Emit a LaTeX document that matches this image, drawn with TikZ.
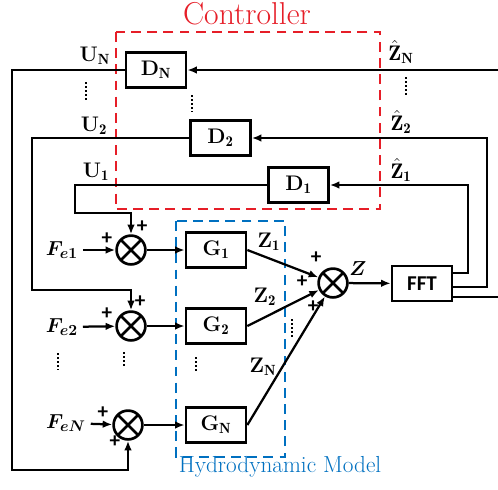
\documentclass[tikz,border=0pt]{standalone}
\usepackage{amsmath}
\usepackage{bm}
\usepackage{fontspec}
\setsansfont{Carlito}
\usepackage{tikz}
\usetikzlibrary{arrows.meta,positioning}
\definecolor{hydroblue}{RGB}{0,112,192}
\definecolor{ctrlred}{RGB}{230,30,40}

\begin{document}
\begin{tikzpicture}[x=0.025cm, y=-0.025cm, every node/.style={font=\fontsize{15}{17}\selectfont\bfseries}]
    \tikzstyle{block} = [rectangle, draw=black, line width=1.9pt, minimum width=1.5cm,
        minimum height=0.875cm, inner sep=0pt]
    \tikzstyle{summer} = [circle, draw=black, line width=1.9pt, minimum size=0.72cm, inner sep=0pt,
        path picture={\draw[line width=1.9pt] (path picture bounding box.north west) -- (path picture bounding box.south east)
            (path picture bounding box.north east) -- (path picture bounding box.south west);}]
    \tikzstyle{wire} = [line width=1.6pt]
    \tikzstyle{arr} = [wire, -{Latex[length=2.4mm, width=1.9mm]}]
    \tikzstyle{plus} = [inner sep=0pt, font=\sffamily\fontsize{15}{16}\selectfont\bfseries]
    \tikzstyle{dots} = [line width=1.8pt, dash pattern=on 1.2pt off 1.7pt]
    \useasboundingbox (0,0) rectangle (498,489);

    % group frames
    \draw [ctrlred, line width=1.7pt, dash pattern=on 7pt off 4.5pt] (116,32) rectangle (380,209);
    \draw [hydroblue, line width=1.7pt, dash pattern=on 7pt off 4.5pt] (176,221) rectangle (285,457);
    \node (ctrl) [font=\fontsize{22.5}{25}\selectfont, text=ctrlred] at (247,14) {Controller};
    \node (hydro) [font=\fontsize{16.5}{18}\selectfont, text=hydroblue] at (280,467) {Hydrodynamic Model};

    % blocks
    \node (DN) [block] at (156,70) {D$_{\mathbf{N}}$};
    \node (D2) [block] at (220.5,138) {D$_{\mathbf{2}}$};
    \node (D1) [block] at (298.5,185) {D$_{\mathbf{1}}$};
    \node (G1) [block] at (216,250) {G$_{\mathbf{1}}$};
    \node (G2) [block] at (216,326) {G$_{\mathbf{2}}$};
    \node (GN) [block] at (216,425) {G$_{\mathbf{N}}$};
    \node (FFT) [block, font=\sffamily\fontsize{15}{17}\selectfont\bfseries] at (422,283.5) {FFT};

    % summing junctions
    \node (S1) [summer] at (131,250) {};
    \node (S2) [summer] at (131,326) {};
    \node (SN) [summer] at (128,425) {};
    \node (S) [summer] at (333,283) {};

    % disturbance inputs
    \node (Fe1) at (62,250) {$\bm{F_{e1}}$};
    \node (Fe2) at (62,327) {$\bm{F_{e2}}$};
    \node (FeN) at (66,423) {$\bm{F_{eN}}$};
    \draw [arr] (Fe1) -- (S1);
    \draw [arr] (Fe2) -- (S2);
    \draw [arr] (FeN) -- (SN);

    % forward path
    \draw [arr] (S1) -- (G1);
    \draw [arr] (S2) -- (G2);
    \draw [arr] (SN) -- (GN);
    \draw [arr] (G1.east) -- (S);
    \draw [arr] (G2.east) -- (S);
    \draw [arr] (GN.east) -- (S);
    \draw [arr] (S) -- (FFT);

    % feedback through the controller
    \coordinate (t1) at (468,273);
    \coordinate (t2) at (487,287);
    \coordinate (t3) at (498,297);
    \coordinate (tN) at (498,70);
    \draw [arr] (FFT.east |- t1) -- (t1) |- (D1.east);
    \draw [arr] (FFT.east |- t2) -- (t2) |- (D2.east);
    \draw [wire] (FFT.east |- t3) -- (t3);
    \draw [arr] (tN) -- (DN.east);

    \coordinate (u1) at (75,213);
    \coordinate (u2) at (32,290);
    \coordinate (uN) at (12,470);
    \draw [arr] (D1.west) -| (u1) -| (S1.north);
    \draw [arr] (D2.west) -| (u2) -| (S2.north);
    \draw [arr] (DN.west) -| (uN) -| (SN.south);

    % signal labels
    \node (lU1) at (96,172) {U$_{\mathbf{1}}$};
    \node (lU2) at (94,126) {U$_{\mathbf{2}}$};
    \node (lUN) at (95,56) {U$_{\mathbf{N}}$};
    \node (lZh1) at (401,170) {$\hat{\mathbf{Z}}_{\mathbf{1}}$};
    \node (lZh2) at (401,122) {$\hat{\mathbf{Z}}_{\mathbf{2}}$};
    \node (lZhN) at (401,52) {$\hat{\mathbf{Z}}_{\mathbf{N}}$};
    \node (lZ1) at (269,242) {Z$_{\mathbf{1}}$};
    \node (lZ2) at (265,297) {Z$_{\mathbf{2}}$};
    \node (lZN) at (263,367) {Z$_{\mathbf{N}}$};
    \node (lZ) at (358,269) {$\bm{Z}$};

    % signs
    \node (p1a) [plus] at (107,239) {+};
    \node (p1b) [plus] at (142,227) {+};
    \node (p2a) [plus] at (107,314) {+};
    \node (p2b) [plus] at (140,302) {+};
    \node (pNa) [plus] at (103,413) {+};
    \node (pNb) [plus] at (115,442) {+};
    \node (pS1) [plus] at (316,258) {+};
    \node (pS2) [plus] at (302,282) {+};
    \node (pSN) [plus] at (313,307) {+};

    % vertical dots
    \draw [dots] (86,82) -- (86,100);
    \draw [dots] (192,95) -- (192,112);
    \draw [dots] (406,77) -- (406,95);
    \draw [dots] (58,353) -- (58,370);
    \draw [dots] (124,352) -- (124,368);
    \draw [dots] (196,357) -- (196,373);
    \draw [dots] (292,319) -- (292,337);
\end{tikzpicture}
\end{document}
